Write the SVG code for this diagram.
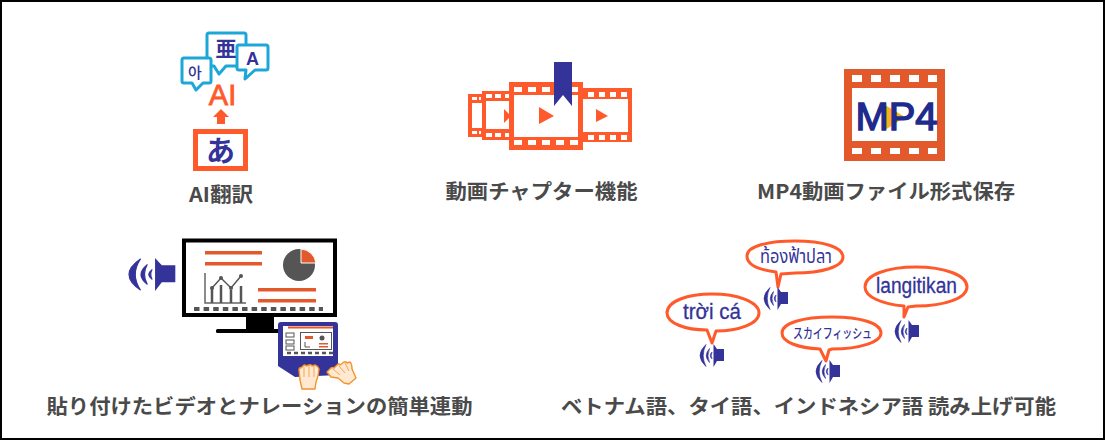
<svg xmlns="http://www.w3.org/2000/svg" width="1105" height="440" viewBox="0 0 1105 440">
<style>
.lbl{font-family:"Noto Sans CJK JP","Liberation Sans",sans-serif;font-weight:700;font-size:20px;fill:#4a4a4a;text-anchor:middle}
.or{fill:#FF5A2C}.bl{fill:#333399}.cy{fill:#fff;stroke:#1CA7D8;stroke-width:3;stroke-linejoin:round}
.hole{fill:#fff}.ln{fill:#E2592B}
.bub{fill:#fff;stroke:#FF5A2C;stroke-width:3;stroke-linejoin:round}
.bt{font-family:"Liberation Sans","Noto Sans CJK JP",sans-serif;fill:#333399;stroke:#333399;stroke-width:.3;text-anchor:middle}
.hand{fill:#FFE9D2;stroke:#F5922B;stroke-width:1.4;stroke-linejoin:round}
.fg{fill:none;stroke:#F5922B;stroke-width:.8}
</style>
<defs>
<g id="spk"><path class="bl" d="M13.500 0L17 5H24V17H17L13.500 23Z"/><path class="bl" d="M6 0.500Q-6 11.500 6 22.500Q0.500 11.500 6 0.500ZM9.500 4.500Q3 11.500 9.500 18.500Q6.500 11.500 9.500 4.500ZM12 8Q8.500 11.500 12 15Q10.500 11.500 12 8Z" stroke="#333399" stroke-width=".6"/></g>
</defs>
<rect x="1" y="1" width="1103" height="438" fill="#fff" stroke="#000" stroke-width="2"/>

<g id="connectors"></g>

<g id="node-ai">
<path class="cy" d="M209 33H244Q246 33 246 35V64Q246 66 244 66H226L219 74L214 66H209Q207 66 207 64V35Q207 33 209 33Z"/>
<path class="cy" d="M184 58H209Q211 58 211 60V81Q211 83 209 83H203L196 90L192 83H184Q182 83 182 81V60Q182 58 184 58Z"/>
<path class="cy" d="M239 45H266Q268 45 268 47V68Q268 70 266 70H255L245 79L246 70H239Q237 70 237 68V47Q237 45 239 45Z"/>
<text x="195" y="78" font-family="Noto Sans CJK KR,sans-serif" font-size="15" font-weight="500" fill="#333399" text-anchor="middle">아</text>
<text x="226" y="56" font-family="Noto Sans CJK JP,sans-serif" font-size="21" font-weight="700" fill="#333399" text-anchor="middle">亜</text>
<text x="252.500" y="65" font-family="Liberation Sans,sans-serif" font-weight="700" font-size="18" fill="#333399" text-anchor="middle">A</text>
<text x="222.500" y="105" font-family="Liberation Sans,sans-serif" font-size="29" fill="#FF5A2C" stroke="#FF5A2C" stroke-width=".8" text-anchor="middle">AI</text>
<path class="or" d="M221 109L229 117H225V124H217V117H213Z"/>
<rect x="195.500" y="131.500" width="50" height="37" fill="#fff" stroke="#FF5A2C" stroke-width="5"/>
<text x="220.500" y="162" font-family="Noto Sans CJK JP,sans-serif" font-weight="700" font-size="29" fill="#333399" text-anchor="middle">あ</text>
<text class="lbl" x="221" y="202" textLength="64" lengthAdjust="spacingAndGlyphs">AI翻訳</text>
</g>

<g id="node-chapter">
<rect class="or" x="468" y="94" width="16" height="43"/>
<rect class="hole" x="472" y="103" width="10" height="25"/>
<rect class="hole" x="472" y="97" width="5" height="3"/><rect class="hole" x="479" y="97" width="2" height="3"/>
<rect class="hole" x="472" y="131" width="5" height="3"/><rect class="hole" x="479" y="131" width="2" height="3"/>
<rect class="or" x="482" y="91" width="28" height="49"/>
<rect class="hole" x="486" y="101" width="23" height="28"/>
<path class="hole" d="M486 94h6v4h-6zM495 94h6v4h-6zM505 94h4v4h-4zM486 133h6v4h-6zM495 133h6v4h-6zM505 133h4v4h-4z"/>
<path class="or" d="M504 109L511 116L504 123Z"/>
<rect class="or" x="583" y="88" width="49" height="54"/>
<rect class="hole" x="583" y="99" width="45" height="33"/>
<path class="hole" d="M588 92h6v5h-6zM599 92h6v5h-6zM610 92h6v5h-6zM621 92h6v5h-6zM588 135h6v5h-6zM599 135h6v5h-6zM610 135h6v5h-6zM621 135h6v5h-6z"/>
<path class="or" d="M596 109L608 116L596 122Z"/>
<rect class="or" x="509" y="82" width="74" height="68"/>
<rect class="hole" x="514" y="95" width="64" height="42"/>
<path class="hole" d="M514 87h8v5h-8zM528 87h8v5h-8zM542 87h8v5h-8zM570 87h8v5h-8zM514 140h8v5h-8zM528 140h8v5h-8zM542 140h8v5h-8zM556 140h8v5h-8zM570 140h8v5h-8z"/>
<path class="or" d="M539 107L554 116L539 124Z"/>
<path class="bl" d="M554 62H572V106L563 95L554 106Z"/>
<text class="lbl" x="541.500" y="199" textLength="192" lengthAdjust="spacingAndGlyphs">動画チャプター機能</text>
</g>

<g id="node-mp4">
<rect x="844" y="69" width="101" height="92" fill="#E2592B"/>
<rect class="hole" x="852" y="88" width="85" height="53"/>
<path class="hole" d="M852 75h10v7h-10zM871 75h10v7h-10zM890 75h10v7h-10zM909 75h10v7h-10zM928 75h9v7h-9zM852 148h10v6h-10zM871 148h10v6h-10zM890 148h10v6h-10zM909 148h10v6h-10zM928 148h9v6h-9z"/>
<path d="M885 105L905 117L885 130Z" fill="#F5B21B"/>
<text x="855.500" y="130" font-family="Liberation Sans,sans-serif" font-size="38" fill="#1F2B8C" stroke="#1F2B8C" stroke-width="1.400" textLength="82" lengthAdjust="spacingAndGlyphs">MP4</text>
<text class="lbl" x="886" y="199" textLength="258" lengthAdjust="spacingAndGlyphs">MP4動画ファイル形式保存</text>
</g>

<g id="node-video">
<use href="#spk" transform="translate(129 258) scale(1.93 1.43)"/>
<rect x="184" y="240.500" width="151" height="74.500" fill="#fff" stroke="#000" stroke-width="4"/>
<rect x="246" y="317" width="28" height="12" fill="#000"/>
<rect x="216" y="329" width="90" height="4" rx="1.500" fill="#000"/>
<rect class="ln" x="205" y="251" width="57" height="3.500"/><rect class="ln" x="205" y="262" width="57" height="3.500"/>
<rect class="ln" x="258" y="288" width="58" height="3.500"/><rect class="ln" x="258" y="299" width="58" height="3.500"/>
<circle cx="299" cy="265" r="16" fill="#555"/>
<path d="M301 249A16 16 0 0 1 316 263H301Z" fill="#E2592B" stroke="#fff" stroke-width="1"/>
<path d="M205 273V303H246" fill="none" stroke="#666" stroke-width="1.500"/>
<path d="M212 303V288M221 303V285M231 303V290M241 303V286" stroke="#555" stroke-width="2.500"/>
<path d="M212 288L221 278L231 288L241 276" fill="none" stroke="#555" stroke-width="1.500"/>
<g fill="#555"><circle cx="212" cy="288" r="2"/><circle cx="221" cy="278" r="2"/><circle cx="231" cy="288" r="2"/><circle cx="241" cy="276" r="2"/></g>
<path d="M194 309H323" stroke="#555" stroke-width="4" stroke-dasharray="5.500 4.100"/>
<path class="bl" d="M281 322H335Q338 322 338 325V375L295 377L278 366V325Q278 322 281 322Z"/>
<rect x="283" y="326" width="50" height="30" fill="#fff"/>
<rect class="ln" x="288" y="326.500" width="45" height="2"/>
<g fill="#fff" stroke="#555" stroke-width="1"><rect x="286" y="333" width="8" height="4"/><rect x="286" y="340" width="8" height="4"/><rect x="286" y="346" width="8" height="4"/></g>
<rect x="300.500" y="332.500" width="31" height="17" fill="#fff" stroke="#555" stroke-width="1"/>
<rect class="ln" x="305" y="336" width="8" height="3"/><circle cx="322" cy="338" r="2.500" fill="#555"/>
<path d="M305 342V347H310" fill="none" stroke="#555" stroke-width="1"/>
<rect class="ln" x="319" y="343" width="9" height="1.500"/><rect class="ln" x="319" y="346" width="9" height="1.500"/>
<path d="M287 353H333" stroke="#555" stroke-width="2.500" stroke-dasharray="4 3"/>
<path class="hand" d="M299 370Q299 367 301 368L303 366Q305 364 306 366L309 365Q311 364 312 366L315 365Q318 366 319 369L318 376L316 382L315 389H302L300 380Z"/>
<path class="fg" d="M304 367V377M309 366V377M314 366V377"/>
<path class="hand" d="M327 372L331 368Q333 367 334 368L337 365Q339 363 340 365L344 362Q346 361 347 363L350 362Q352 364 352 369L356 378L349 384L344 383L338 378L331 377Z"/>
<path class="fg" d="M333 369L340 375M339 366L345 373M345 363L349 371"/>
<text class="lbl" x="259.500" y="414" textLength="426" lengthAdjust="spacingAndGlyphs">貼り付けたビデオとナレーションの簡単連動</text>
</g>

<g id="node-langs">
<path class="bub" d="M707 330C685 330 667 323 667 313C667 301 688 294 712 294C738 294 759 302 759 313C759 324 738 331 716 331L712 343Z"/>
<text class="bt" x="712" y="319" font-size="22" textLength="58" lengthAdjust="spacingAndGlyphs">trời cá</text>
<use href="#spk" x="700" y="344"/>
<path class="bub" d="M776 272C760 270 747 265 747 256C747 246 768 241 795 241C823 241 843 247 843 257C843 267 821 273 795 273L781 274L778 287Z"/>
<text x="796" y="263" font-family="Noto Sans Thai,Noto Sans,DejaVu Sans,Liberation Sans,sans-serif" font-size="20" fill="#333399" text-anchor="middle" textLength="72" lengthAdjust="spacingAndGlyphs">ท้องฟ้าปลา</text>
<use href="#spk" x="764" y="287"/>
<path class="bub" d="M904 306C882 304 865 297 865 287C865 275 887 267 916 267C944 267 967 275 967 287C967 298 945 306 916 306L908 307L904 317Z"/>
<text class="bt" x="916.500" y="293" font-size="22" textLength="81" lengthAdjust="spacingAndGlyphs">langitikan</text>
<use href="#spk" x="895" y="320"/>
<path class="bub" d="M820 349C798 348 782 342 782 333C782 323 803 317 832 317C860 317 881 323 881 333C881 342 860 349 832 349L829 350L826 361Z"/>
<text x="832.500" y="338" font-family="Noto Sans CJK JP,sans-serif" font-size="13.500" font-weight="500" fill="#333399" text-anchor="middle" textLength="79" lengthAdjust="spacingAndGlyphs">スカイフィッシュ</text>
<use href="#spk" x="816" y="360"/>
<text class="lbl" x="808.500" y="414" textLength="495" lengthAdjust="spacingAndGlyphs">ベトナム語、タイ語、インドネシア語 読み上げ可能</text>
</g>
</svg>
